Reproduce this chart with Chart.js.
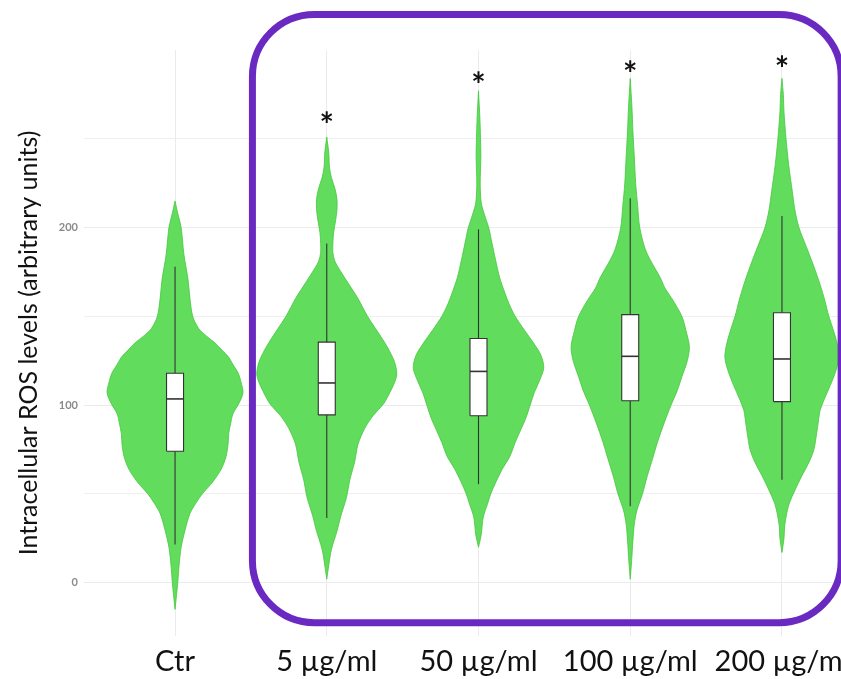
<!DOCTYPE html>
<html>
<head>
<meta charset="utf-8">
<script src="https://cdn.jsdelivr.net/npm/chart.js@4.4.1/dist/chart.umd.min.js"></script>
<style>
  html, body { margin: 0; padding: 0; background: #fff; overflow: hidden; }
  #wrap { width: 873px; height: 679px; }
</style>
</head>
<body>
<div id="wrap"><canvas id="rosChart"></canvas></div>
<script>
// Grupos e asteriscos de significância
const categories = ['Ctr', '5 µg/ml', '50 µg/ml', '100 µg/ml', '200 µg/ml'];
const starLevels = [null, 262, 285, 291, 294];
const yGridValues = [0, 50, 100, 150, 200, 250];

// Boxplot (bigode inferior, Q1, mediana, Q3, bigode superior)
const boxLow = [21.5, 36.5, 55.5, 43, 58];
const boxQ1 = [74, 94.5, 94, 102.5, 102];
const boxMedian = [103.5, 112.5, 119, 127.5, 126];
const boxQ3 = [118, 135.5, 137.5, 151, 152];
const boxHigh = [178, 191, 199, 216.5, 206.5];

// Perfis de densidade do violino: valor e largura relativa
const ctrY = [-15, 0, 10, 20, 30, 39, 45, 50, 57, 64, 71, 78, 84, 90, 95, 101, 107, 113, 118, 123, 127, 131, 135, 139, 143, 150, 160, 171, 185, 200, 208, 215];
const ctrD = [0, .04, .06, .09, .15, .22, .31, .40, .56, .68, .75, .78, .79, .82, .85, .94, 1.00, .97, .93, .85, .79, .69, .59, .46, .35, .26, .22, .19, .13, .09, .04, 0];

const d5Y = [2, 10, 19, 29, 38, 48, 58, 68, 78, 87, 94, 101, 108, 114, 118, 124, 130, 136, 143, 150, 160, 169, 175, 181, 186, 191, 197, 204, 210, 216, 222, 228, 234, 242, 251];
const d5D = [0, .03, .07, .15, .21, .29, .34, .41, .46, .56, .68, .84, .94, 1.01, 1.03, 1.00, .93, .84, .72, .60, .46, .31, .21, .12, .09, .09, .10, .13, .15, .15, .12, .07, .04, .03, 0];

const d50Y = [20, 27, 37, 44, 50, 57, 64, 71, 79, 86, 92, 100, 107, 114, 121, 128, 135, 142, 150, 157, 163, 172, 182, 191, 200, 207, 214, 225, 240, 250, 262, 277];
const d50D = [0, .04, .07, .13, .18, .26, .35, .46, .54, .62, .69, .76, .82, .90, .96, .92, .81, .68, .54, .45, .39, .31, .25, .20, .15, .09, .04, .025, .035, .03, .02, 0];

const d100Y = [2, 12, 24, 33, 41, 50, 60, 70, 79, 90, 100, 108, 116, 125, 133, 142, 150, 159, 166, 172, 180, 188, 200, 212, 225, 240, 254, 268, 284];
const d100D = [0, .02, .04, .06, .10, .18, .25, .33, .40, .50, .60, .69, .76, .84, .87, .82, .76, .63, .51, .44, .32, .22, .14, .11, .08, .06, .04, .025, 0];

const d200Y = [17, 25, 32, 39, 45, 52, 60, 68, 75, 84, 92, 97, 104, 111, 119, 127, 135, 143, 150, 159, 168, 178, 190, 200, 210, 221, 235, 250, 265, 275, 284];
const d200D = [0, .03, .04, .07, .11, .19, .29, .40, .47, .51, .54, .56, .63, .71, .79, .84, .81, .75, .69, .63, .56, .47, .35, .25, .19, .15, .10, .06, .03, .02, 0];

const violinY = [ctrY, d5Y, d50Y, d100Y, d200Y];
const violinD = [ctrD, d5D, d50D, d100D, d200D];

// Moldura roxa em torno dos tratamentos (coordenadas de dados)
const frameX = [0.51, 4.39];
const frameY = [-22.5, 320];

const VIOLIN_HALF = 0.448;
const BOX_HALF = 0.056;
const GREEN = '#62dc5c';
const GREEN_EDGE = '#44c83e';
const DARK = '#333333';
const FONT = 'Lato, "Open Sans", sans-serif';

function violinPoints(i) {
    const ys = violinY[i], ds = violinD[i];
    const right = ys.map((y, k) => ({ x: i + ds[k] * VIOLIN_HALF, y }));
    const left = ys.map((y, k) => ({ x: i - ds[k] * VIOLIN_HALF, y })).reverse();
    return right.concat(left);
}

const datasets = [];
categories.forEach((cat, i) => {
    datasets.push({
        data: violinPoints(i), showLine: true, fill: 'shape', tension: 0.3,
        backgroundColor: GREEN, borderColor: GREEN_EDGE, borderWidth: 0.8,
        pointRadius: 0, order: 4
    });
    datasets.push({
        data: [{ x: i, y: boxLow[i] }, { x: i, y: boxHigh[i] }], showLine: true,
        borderColor: DARK, borderWidth: 1.1, pointRadius: 0, order: 3
    });
    datasets.push({
        data: [
            { x: i - BOX_HALF, y: boxQ1[i] }, { x: i + BOX_HALF, y: boxQ1[i] },
            { x: i + BOX_HALF, y: boxQ3[i] }, { x: i - BOX_HALF, y: boxQ3[i] },
            { x: i - BOX_HALF, y: boxQ1[i] }
        ],
        showLine: true, fill: 'shape', backgroundColor: '#ffffff',
        borderColor: DARK, borderWidth: 1.1, pointRadius: 0, order: 2
    });
    datasets.push({
        data: [{ x: i - BOX_HALF, y: boxMedian[i] }, { x: i + BOX_HALF, y: boxMedian[i] }],
        showLine: true, borderColor: DARK, borderWidth: 1.6, pointRadius: 0, order: 1
    });
});

// Asteriscos e moldura desenhados por cima, usando as escalas do gráfico
const extrasPlugin = {
    id: 'extras',
    afterDraw(chart) {
        const { ctx, scales: { x, y } } = chart;
        ctx.save();
        ctx.fillStyle = '#111';
        ctx.font = 'bold 34px ' + FONT;
        ctx.textAlign = 'center';
        ctx.textBaseline = 'middle';
        starLevels.forEach((v, i) => {
            if (v === null) return;
            ctx.fillText('*', x.getPixelForValue(i), y.getPixelForValue(v) + 9);
        });

        const x0 = x.getPixelForValue(frameX[0]), x1 = x.getPixelForValue(frameX[1]);
        const y0 = y.getPixelForValue(frameY[1]), y1 = y.getPixelForValue(frameY[0]);
        const r = 62;
        ctx.strokeStyle = '#6a2ac2';
        ctx.lineWidth = 7;
        ctx.beginPath();
        ctx.moveTo(x0 + r, y0);
        ctx.arcTo(x1, y0, x1, y1, r);
        ctx.arcTo(x1, y1, x0, y1, r);
        ctx.arcTo(x0, y1, x0, y0, r);
        ctx.arcTo(x0, y0, x1, y0, r);
        ctx.closePath();
        ctx.stroke();
        ctx.restore();
    }
};

new Chart(document.getElementById('rosChart'), {
    type: 'scatter',
    data: { datasets },
    plugins: [extrasPlugin],
    options: {
        responsive: true,
        maintainAspectRatio: false,
        animation: false,
        layout: { padding: { top: 50, left: 0, right: 0, bottom: 0 } },
        plugins: { legend: { display: false }, tooltip: { enabled: false } },
        scales: {
            x: {
                type: 'linear', min: -0.6, max: 4.6,
                afterBuildTicks: s => { s.ticks = categories.map((c, i) => ({ value: i })); },
                afterFit: s => { s.height = 43; },
                grid: { color: '#ebebeb', lineWidth: 1, drawTicks: false },
                border: { display: false },
                ticks: {
                    padding: 8, color: '#111', font: { family: FONT, size: 29 },
                    callback: v => categories[v]
                }
            },
            y: {
                type: 'linear', min: -30, max: 300,
                afterBuildTicks: s => { s.ticks = yGridValues.map(v => ({ value: v })); },
                afterFit: s => { s.width = 84; },
                grid: {
                    color: '#ebebeb', drawTicks: false,
                    lineWidth: c => (c.tick && c.tick.value % 100 === 0 ? 1 : 0.8)
                },
                border: { display: false },
                ticks: {
                    padding: 6, color: '#8a8a8a', font: { family: FONT, size: 11, weight: 'bold' },
                    callback: v => (v % 100 === 0 ? String(v) : '')
                },
                title: {
                    display: true, text: 'Intracellular ROS levels (arbitrary units)',
                    color: '#111', font: { family: FONT, size: 25 }, padding: { top: 14, bottom: 0 }
                }
            }
        }
    }
});
</script>
</body>
</html>
